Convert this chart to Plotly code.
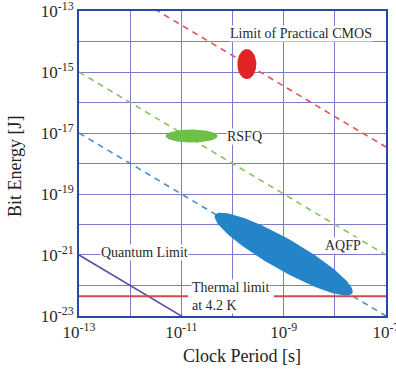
import numpy as np
import plotly.graph_objects as go

# ---- data (log10 values) ----
x_tick_exps = [-13, -12, -11, -10, -9, -8, -7]
y_tick_exps = [-23, -22, -21, -20, -19, -18, -17, -16, -15, -14, -13]

# energy-period product lines: log10(E*T)
cmos_logET = -24.46
rsfq_logET = -28.0
aqfp_logET = -30.0
quantum_logET = -34.0
thermal_logE = -22.35

# technology regions: (center logT, center logE)
cmos_center = (-9.72, -14.74)
rsfq_center = (-10.80, -17.10)
aqfp_center = (-9.0, -20.97)

# ---- layout geometry ----
W, H = 396, 369
ML, MR, MT, MB = 79, 10, 11, 53
pxx = (W - ML - MR) / 6.0
pxy = (H - MT - MB) / 10.0

serif = "Liberation Serif, Times New Roman, serif"

def ellipse(center, a_px, b_px, theta_deg, n=120):
    t = np.linspace(0, 2 * np.pi, n)
    th = np.radians(theta_deg)
    dx = a_px * np.cos(t) * np.cos(th) - b_px * np.sin(t) * np.sin(th)
    dy = a_px * np.cos(t) * np.sin(th) + b_px * np.sin(t) * np.cos(th)
    lx = center[0] + dx / pxx
    ly = center[1] - dy / pxy
    return 10 ** lx, 10 ** ly

T = np.logspace(-13, -7, 50)

fig = go.Figure()

def prod_line(logET, color, dash):
    E = 10 ** logET / T
    fig.add_trace(go.Scatter(x=T, y=E, mode="lines",
                             line=dict(color=color, width=1.6, dash=dash),
                             hoverinfo="skip", showlegend=False))

prod_line(cmos_logET, "#e05555", "6px,5px")
prod_line(rsfq_logET, "#8cc060", "6px,5px")
prod_line(aqfp_logET, "#4a90c8", "6px,5px")
prod_line(quantum_logET, "#5a50a8", "solid")

# thermal limit (two segments around the label)
fig.add_trace(go.Scatter(x=[1e-13, 10 ** -10.87], y=[10 ** thermal_logE] * 2, mode="lines",
                         line=dict(color="#d84848", width=2), hoverinfo="skip", showlegend=False))
fig.add_trace(go.Scatter(x=[10 ** -9.19, 1e-7], y=[10 ** thermal_logE] * 2, mode="lines",
                         line=dict(color="#d84848", width=2), hoverinfo="skip", showlegend=False))

for c, a, b, th, col in [(cmos_center, 9.5, 15, 0, "#e02424"),
                         (rsfq_center, 26, 6.5, 0, "#6cc044"),
                         (aqfp_center, 79, 15.5, 29.7, "#2384c8")]:
    ex, ey = ellipse(c, a, b, th)
    fig.add_trace(go.Scatter(x=ex, y=ey, mode="lines", fill="toself", fillcolor=col,
                             line=dict(color=col, width=0), hoverinfo="skip", showlegend=False))

def sup_label(e):
    return "10<sup>%d</sup>" % e

ann_font = dict(family=serif, size=14, color="#2a2a2a")
annotations = [
    dict(x=-8.66, y=-13.75, text="Limit of Practical CMOS", xanchor="center"),
    dict(x=-10.13, y=-17.10, text="RSFQ", xanchor="left"),
    dict(x=-11.73, y=-20.93, text="Quantum Limit", xanchor="center"),
    dict(x=-7.84, y=-20.70, text="AQFP", xanchor="center"),
    dict(x=-10.82, y=-22.36, text="Thermal limit<br>at 4.2 K", xanchor="left", align="left"),
]
for a in annotations:
    a.update(xref="x", yref="y", showarrow=False, font=ann_font, bgcolor="white",
             borderpad=0, yanchor="middle")

annotations.append(dict(xref="paper", yref="paper", x=0.53, y=-0.13, text="Clock Period [s]",
                        showarrow=False, xanchor="center", yanchor="middle",
                        font=dict(family=serif, size=18, color="#222222")))
annotations.append(dict(xref="paper", yref="paper", x=-0.21, y=0.49, text="Bit Energy [J]",
                        showarrow=False, xanchor="center", yanchor="middle", textangle=-90,
                        font=dict(family=serif, size=18, color="#222222")))

fig.update_layout(
    width=W, height=H,
    margin=dict(l=ML, r=MR, t=MT, b=MB, autoexpand=False),
    paper_bgcolor="white", plot_bgcolor="white",
    annotations=annotations,
    showlegend=False,
)
grid_col = "#7c7cc8"
eps = 0.0005
common = dict(type="log", tickmode="array", showgrid=True, gridcolor=grid_col, gridwidth=1,
              showline=True, linecolor="#2848a8", linewidth=2, mirror=True, ticks="",
              tickfont=dict(family=serif, size=17, color="#2a2a2a"), zeroline=False,
              automargin=False, ticklabeloverflow="allow")
fig.update_xaxes(range=[-13 - eps, -7 + eps],
                 tickvals=[10 ** e for e in x_tick_exps],
                 ticktext=[sup_label(e) if e % 2 else "" for e in x_tick_exps], **common)
fig.update_yaxes(range=[-23 - eps, -13 + eps],
                 tickvals=[10 ** e for e in y_tick_exps],
                 ticktext=[sup_label(e) if e % 2 else "" for e in y_tick_exps], **common)

fig.write_html("out.html", config={"displayModeBar": False},
               post_script="document.body.style.margin='0';document.body.style.overflow='hidden';")
